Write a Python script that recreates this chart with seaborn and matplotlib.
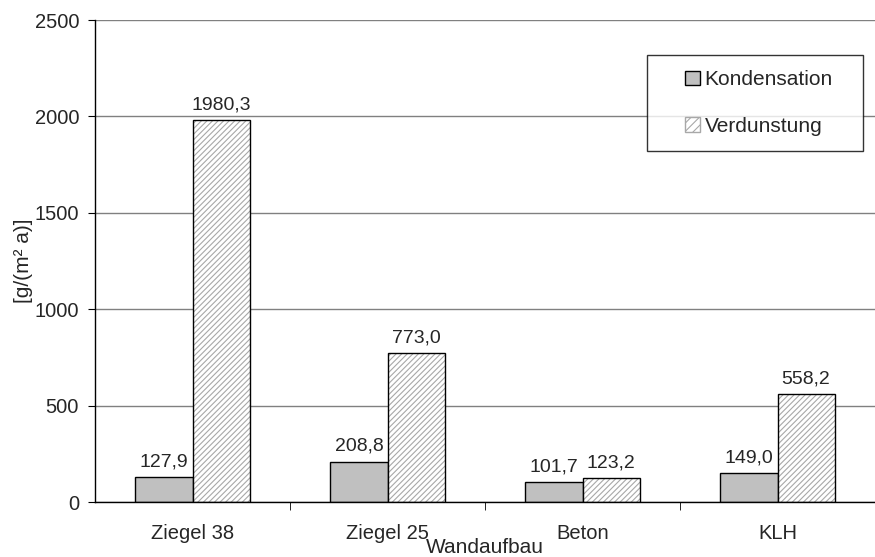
import numpy as np
import pandas as pd
import seaborn as sns
import matplotlib
matplotlib.use('Agg')
from matplotlib import pyplot as plt
from matplotlib.patches import Rectangle
from matplotlib.legend_handler import HandlerPatch

categories = ['Ziegel 38', 'Ziegel 25', 'Beton', 'KLH']
kondensation = [127.9, 208.8, 101.7, 149.0]
verdunstung = [1980.3, 773.0, 123.2, 558.2]
series = ['Kondensation', 'Verdunstung']

df = pd.DataFrame({
    'Wandaufbau': categories * 2,
    'Serie': [series[0]] * 4 + [series[1]] * 4,
    'Wert': kondensation + verdunstung,
})

sns.set_style('white')
plt.rcParams['font.family'] = ['Liberation Sans', 'DejaVu Sans']
plt.rcParams['hatch.linewidth'] = 0.8


class RightSquare(HandlerPatch):
    # small square drawn at the right end of the handle box
    def create_artists(self, legend, orig_handle, xdescent, ydescent,
                       width, height, fontsize, trans):
        r = Rectangle((-xdescent + width - height, -ydescent), height, height)
        self.update_prop(r, orig_handle, legend)
        r.set_transform(trans)
        return [r]


fig = plt.figure(figsize=(8.75, 5.57), dpi=100)
ax = fig.add_axes([0.1086, 0.0987, 0.8914, 0.8653])

sns.barplot(data=df, x='Wandaufbau', y='Wert', hue='Serie', ax=ax,
            palette=['#c0c0c0', 'white'], width=0.585, gap=0,
            edgecolor='black', linewidth=1, saturation=1, legend=False)

# hatching for Verdunstung: gray hatch, black outline drawn on top
for bar in ax.containers[1]:
    bar.set_hatch('//////')
    bar.set_edgecolor('#a8a8a8')
    bar.set_linewidth(0)
    ax.add_patch(Rectangle(bar.get_xy(), bar.get_width(), bar.get_height(),
                           fill=False, edgecolor='black', linewidth=1, zorder=bar.get_zorder() + 0.1))

for cont in ax.containers:
    labels = [f'{v:.1f}'.replace('.', ',') for v in cont.datavalues]
    ax.bar_label(cont, labels=labels, padding=5, fontsize=14)

ax.set_ylim(0, 2500)
ax.set_yticks(np.arange(0, 2501, 500))
ax.set_xlim(-0.5, 3.5)
ax.yaxis.grid(True, color='#808080', linewidth=1)
ax.set_axisbelow(True)
for s in ['top', 'right']:
    ax.spines[s].set_visible(False)
for s in ['left', 'bottom']:
    ax.spines[s].set_color('black')
    ax.spines[s].set_linewidth(1)

ax.set_xticks(range(4))
ax.set_xticklabels(categories, fontsize=14.5)
ax.tick_params(axis='x', length=0, pad=16)
ax.set_xticks([0.5, 1.5, 2.5, 3.5], minor=True)
ax.tick_params(axis='x', which='minor', length=6, direction='out', color='black', bottom=True)
ax.tick_params(axis='y', length=5, direction='out', color='black', labelsize=14.5, left=True, pad=6.5)

ax.set_ylabel('[g/(m² a)]', fontsize=15, labelpad=1)
ax.set_xlabel('Wandaufbau', fontsize=15, labelpad=-3.5)

handles = [Rectangle((0, 0), 1, 1, facecolor='#c0c0c0', edgecolor='black', linewidth=1),
           Rectangle((0, 0), 1, 1, facecolor='white', edgecolor='#a8a8a8', hatch='////', linewidth=1)]
leg = ax.legend(handles, series, loc='upper left', mode='expand',
                bbox_to_anchor=(0.7077, 0.5, 0.277, 0.427), fontsize=15,
                handler_map={Rectangle: RightSquare()},
                frameon=True, fancybox=False, edgecolor='black',
                handlelength=1.84, handleheight=0.72, handletextpad=0.2,
                labelspacing=1.32, borderpad=0.72, borderaxespad=0)
leg.get_frame().set_linewidth(1)

plt.savefig('out.png', dpi=100)
